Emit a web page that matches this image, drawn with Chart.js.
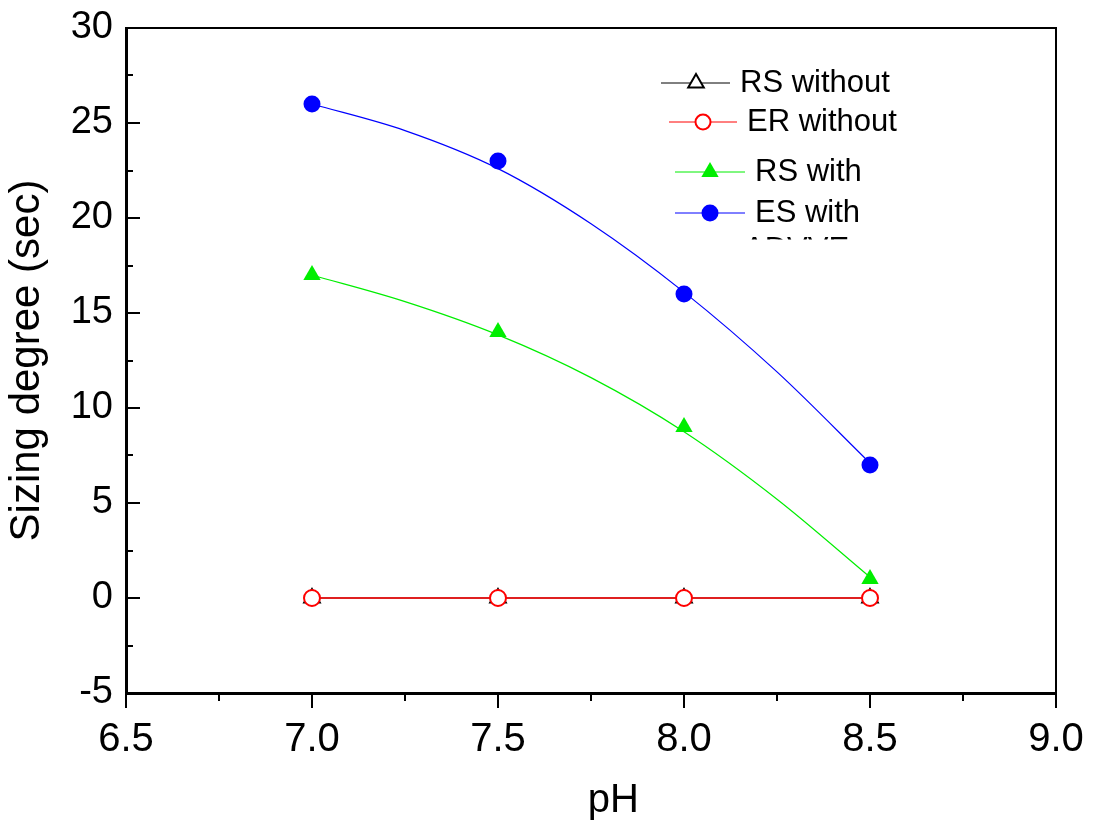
<!DOCTYPE html>
<html>
<head>
<meta charset="utf-8">
<script src="https://cdn.jsdelivr.net/npm/chart.js@4.4.1/dist/chart.umd.min.js"></script>
<style>
  html, body { margin: 0; padding: 0; background: #fff; }
  #wrap { width: 1096px; height: 829px; position: relative; }
</style>
</head>
<body>
<div id="wrap"><canvas id="myChart"></canvas></div>
<script>
// measured points
var phValues = [7.0, 7.5, 8.0, 8.5];
var rsWithout = [0, 0, 0, 0];
var erWithout = [0, 0, 0, 0];
var rsWith = [17, 14, 9, 1];
var esWith = [26, 23, 16, 7];

// smoothed fit curves
var fitPh = [7.0, 7.25, 7.5, 7.75, 8.0, 8.25, 8.5];
var rsWithFit = [17.0, 15.6, 13.85, 11.6, 8.75, 5.2, 1.1];
var esWithFit = [26.0, 24.6, 22.6, 19.7, 16.1, 11.9, 7.1];

var legendLabels = ['RS without', 'ER without', 'RS with', 'ES with'];
var cutLabel = 'ADVVE';

var FONT = "'Liberation Sans', Arial, sans-serif";

function toXY(xs, ys) {
    var out = [];
    for (var i = 0; i < xs.length; i++) out.push({ x: xs[i], y: ys[i] });
    return out;
}

function drawMarker(ctx, style, x, y, r, fill, stroke, lw) {
    ctx.beginPath();
    if (style == 'triangle') {
        ctx.moveTo(x, y - r);
        ctx.lineTo(x + r * Math.sqrt(3) / 2, y + r / 2);
        ctx.lineTo(x - r * Math.sqrt(3) / 2, y + r / 2);
        ctx.closePath();
    } else {
        ctx.arc(x, y, r, 0, Math.PI * 2);
    }
    ctx.fillStyle = fill;
    ctx.fill();
    if (stroke) {
        ctx.lineWidth = lw;
        ctx.strokeStyle = stroke;
        ctx.stroke();
    }
}

// frame, minor/major ticks and the legend inside the plot
var framePlugin = {
    id: 'frame',
    afterDraw: function (chart) {
        var ctx = chart.ctx;
        var a = chart.chartArea;
        var xs = chart.scales.x, ys = chart.scales.y;
        ctx.save();
        ctx.strokeStyle = '#000';
        ctx.lineWidth = 2;
        ctx.beginPath();
        ctx.moveTo(a.left, a.top);
        ctx.lineTo(a.right, a.top);
        ctx.lineTo(a.right, a.bottom);
        ctx.stroke();

        // x ticks point down, y ticks point in
        ctx.lineWidth = 2;
        for (var v = xs.min; v <= xs.max + 1e-9; v += 0.25) {
            var px = Math.round(xs.getPixelForValue(v));
            var major = Math.abs(v * 2 - Math.round(v * 2)) < 1e-6;
            ctx.beginPath();
            ctx.moveTo(px, a.bottom);
            ctx.lineTo(px, a.bottom + (major ? 15 : 8));
            ctx.stroke();
        }
        for (var w = ys.min; w <= ys.max + 1e-9; w += 2.5) {
            var py = Math.round(ys.getPixelForValue(w));
            var maj = Math.abs(w / 5 - Math.round(w / 5)) < 1e-6;
            ctx.beginPath();
            ctx.moveTo(a.left, py);
            ctx.lineTo(a.left + (maj ? 14 : 7), py);
            ctx.stroke();
        }

        // legend
        var items = [
            { x1: 661, x2: 730, y: 83, mx: 696, style: 'triangle', r: 9, color: '#000', fill: '#fff', tx: 740 },
            { x1: 669, x2: 737, y: 122, mx: 703, style: 'circle', r: 7.5, color: '#ff0000', fill: '#fff', tx: 747 },
            { x1: 675, x2: 745, y: 172, mx: 710, style: 'triangle', r: 10, color: '#00ee00', fill: '#00ee00', tx: 755 },
            { x1: 675, x2: 745, y: 213, mx: 710, style: 'circle', r: 8.5, color: '#0000ff', fill: '#0000ff', tx: 755 }
        ];
        ctx.font = '31px ' + FONT;
        ctx.textBaseline = 'middle';
        ctx.textAlign = 'left';
        for (var i = 0; i < items.length; i++) {
            var it = items[i];
            ctx.lineWidth = 1;
            ctx.strokeStyle = it.color;
            ctx.beginPath();
            ctx.moveTo(it.x1, it.y);
            ctx.lineTo(it.x2, it.y);
            ctx.stroke();
            var open = it.fill == '#fff';
            drawMarker(ctx, it.style, it.mx, it.y, it.r, it.fill, open ? it.color : null, 2);
            ctx.fillStyle = '#000';
            ctx.fillText(legendLabels[i], it.tx, it.y);
        }
        // clipped last legend line, only the tops of the letters show
        ctx.save();
        ctx.beginPath();
        ctx.rect(700, 200, 250, 39.5);
        ctx.clip();
        ctx.fillStyle = '#000';
        ctx.fillText(cutLabel, 744, 250);
        ctx.restore();
        ctx.restore();
    }
};

var ctx = document.getElementById('myChart').getContext('2d');
var myChart = new Chart(ctx, {
    type: 'scatter',
    data: {
        datasets: [
            {
                label: 'ER without',
                data: toXY(phValues, erWithout),
                showLine: true,
                borderColor: '#ff0000',
                borderWidth: 1.5,
                pointStyle: 'circle',
                pointRadius: 8,
                pointBorderWidth: 2,
                pointBorderColor: '#ff0000',
                pointBackgroundColor: '#ffffff',
                order: 1
            },
            {
                label: 'RS without',
                data: toXY(phValues, rsWithout),
                showLine: true,
                borderColor: '#000000',
                borderWidth: 1,
                pointStyle: 'triangle',
                pointRadius: 9.5,
                pointBorderWidth: 1.5,
                pointBorderColor: '#000000',
                pointBackgroundColor: '#ffffff',
                order: 2
            },
            {
                label: 'RS with',
                data: toXY(phValues, rsWith),
                showLine: false,
                pointStyle: 'triangle',
                pointRadius: 10,
                pointBorderWidth: 0,
                pointBackgroundColor: '#00ee00',
                order: 3
            },
            {
                label: 'ES with',
                data: toXY(phValues, esWith),
                showLine: false,
                pointStyle: 'circle',
                pointRadius: 8.5,
                pointBorderWidth: 0,
                pointBackgroundColor: '#0000ff',
                order: 3
            },
            {
                label: 'RS with fit',
                data: toXY(fitPh, rsWithFit),
                showLine: true,
                borderColor: '#00ee00',
                borderWidth: 1.2,
                cubicInterpolationMode: 'monotone',
                pointRadius: 0,
                order: 4
            },
            {
                label: 'ES with fit',
                data: toXY(fitPh, esWithFit),
                showLine: true,
                borderColor: '#0000ff',
                borderWidth: 1.2,
                cubicInterpolationMode: 'monotone',
                pointRadius: 0,
                order: 4
            }
        ]
    },
    options: {
        responsive: true,
        maintainAspectRatio: false,
        animation: false,
        devicePixelRatio: 1,
        layout: { padding: { top: 28, right: 40, left: 0, bottom: 0 } },
        plugins: {
            legend: { display: false },
            tooltip: { enabled: false }
        },
        scales: {
            x: {
                type: 'linear',
                min: 6.5,
                max: 9.0,
                // invisible tick marks just push the labels away from the axis
                grid: { display: true, drawOnChartArea: false, drawTicks: true, tickLength: 23, color: 'rgba(0,0,0,0)', tickColor: 'rgba(0,0,0,0)' },
                border: { display: true, color: '#000', width: 3 },
                ticks: {
                    stepSize: 0.5,
                    padding: 0,
                    color: '#000',
                    font: { family: FONT, size: 40, lineHeight: 1.2 },
                    callback: function (v) { return v.toFixed(1); }
                },
                title: {
                    display: true,
                    text: '    pH',
                    color: '#000',
                    padding: { top: 0, bottom: 4.5 },
                    font: { family: FONT, size: 40, lineHeight: 1.2 }
                },
                afterFit: function (scale) { scale.height = 136; }
            },
            y: {
                type: 'linear',
                min: -5,
                max: 30,
                grid: { display: true, drawOnChartArea: false, drawTicks: true, tickLength: 13, color: 'rgba(0,0,0,0)', tickColor: 'rgba(0,0,0,0)' },
                border: { display: true, color: '#000', width: 3 },
                ticks: {
                    stepSize: 5,
                    padding: 0,
                    color: '#000',
                    font: { family: FONT, size: 38, lineHeight: 1.2 }
                },
                title: {
                    display: true,
                    text: 'Sizing degree (sec)',
                    color: '#000',
                    padding: { top: 2, bottom: 0 },
                    font: { family: FONT, size: 42, lineHeight: 1.2 }
                },
                afterFit: function (scale) { scale.width = 126; }
            }
        }
    },
    plugins: [framePlugin]
});
</script>
</body>
</html>
